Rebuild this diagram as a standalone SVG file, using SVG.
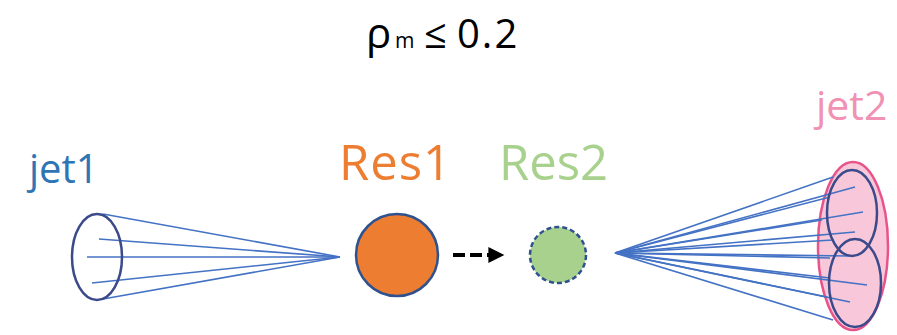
<svg xmlns="http://www.w3.org/2000/svg" width="897" height="335" viewBox="0 0 897 335">
  <style>
    .lbl { font-family: "Open Sans", "Liberation Sans", sans-serif; }
    .ray { stroke: #4472C4; stroke-width: 1.6; fill: none; }
    .cone { stroke: #3B4A8A; stroke-width: 2.5; fill: none; }
  </style>
  <defs>
    <marker id="arrowhead" viewBox="0 0 10 10" refX="1" refY="5" markerWidth="4.5" markerHeight="4" orient="auto" markerUnits="strokeWidth">
      <path d="M0,0 L10,5 L0,10 Z" fill="#000"/>
    </marker>
  </defs>
  <rect width="897" height="335" fill="#fff"/>

  <!-- title -->
  <g id="title" class="lbl" fill="#000">
    <text x="366" y="48" font-size="42">ρ</text>
    <text x="395" y="48" font-size="21">m</text>
    <text x="424" y="48" font-size="40">≤</text>
    <text x="457" y="48" font-size="40" letter-spacing="2">0.2</text>
  </g>

  <!-- jet1: single cone -->
  <g id="jet1">
    <text class="lbl" x="29" y="183" font-size="40" fill="#2E75B6">jet1</text>
    <g class="ray">
      <line x1="340" y1="257" x2="103" y2="214"/>
      <line x1="340" y1="257" x2="99" y2="239"/>
      <line x1="340" y1="257" x2="87" y2="257"/>
      <line x1="340" y1="257" x2="92" y2="283"/>
      <line x1="340" y1="257" x2="103" y2="299"/>
    </g>
    <ellipse class="cone" cx="97" cy="257" rx="25" ry="43"/>
  </g>

  <!-- Res1 -->
  <g id="res1">
    <text class="lbl" x="339" y="180" font-size="49" letter-spacing="1" fill="#ED7D31">Res1</text>
    <circle cx="397" cy="255" r="41" fill="#ED7D31" stroke="#2F528F" stroke-width="2.5"/>
  </g>

  <!-- Res2 -->
  <g id="res2">
    <text class="lbl" x="499" y="180" font-size="49" fill="#A9D18E">Res2</text>
    <circle cx="558" cy="255" r="28" fill="#A9D18E" stroke="#2F528F" stroke-width="2.5" stroke-dasharray="5 3"/>
  </g>

  <!-- connectors -->
  <g id="connectors">
    <line x1="453" y1="255" x2="490" y2="255" stroke="#000" stroke-width="4" stroke-dasharray="12 5" marker-end="url(#arrowhead)"/>
  </g>

  <!-- jet2: merged cone with two sub-jets -->
  <g id="jet2">
    <text class="lbl" x="816" y="120" font-size="41" fill="#F191B4">jet2</text>
    <ellipse cx="853" cy="246" rx="35" ry="84" fill="#F8C8DA" stroke="#E8548A" stroke-width="2.5"/>
    <g class="ray">
      <line x1="615" y1="253" x2="833" y2="177"/>
      <line x1="615" y1="253" x2="855" y2="187"/>
      <line x1="615" y1="253" x2="830" y2="197"/>
      <line x1="615" y1="253" x2="863" y2="212"/>
      <line x1="615" y1="253" x2="822" y2="220"/>
      <line x1="615" y1="253" x2="855" y2="232"/>
      <line x1="615" y1="253" x2="833" y2="240"/>
      <line x1="615" y1="253" x2="850" y2="256"/>
      <line x1="615" y1="253" x2="830" y2="258"/>
      <line x1="615" y1="253" x2="830" y2="278"/>
      <line x1="615" y1="253" x2="867" y2="285"/>
      <line x1="615" y1="253" x2="827" y2="297"/>
      <line x1="615" y1="253" x2="850" y2="302"/>
      <line x1="615" y1="253" x2="833" y2="320"/>
    </g>
    <ellipse class="cone" stroke="#4B4B8F" cx="852" cy="213" rx="25" ry="43"/>
    <ellipse class="cone" stroke="#4B4B8F" cx="855" cy="283" rx="26" ry="44"/>
  </g>
</svg>
